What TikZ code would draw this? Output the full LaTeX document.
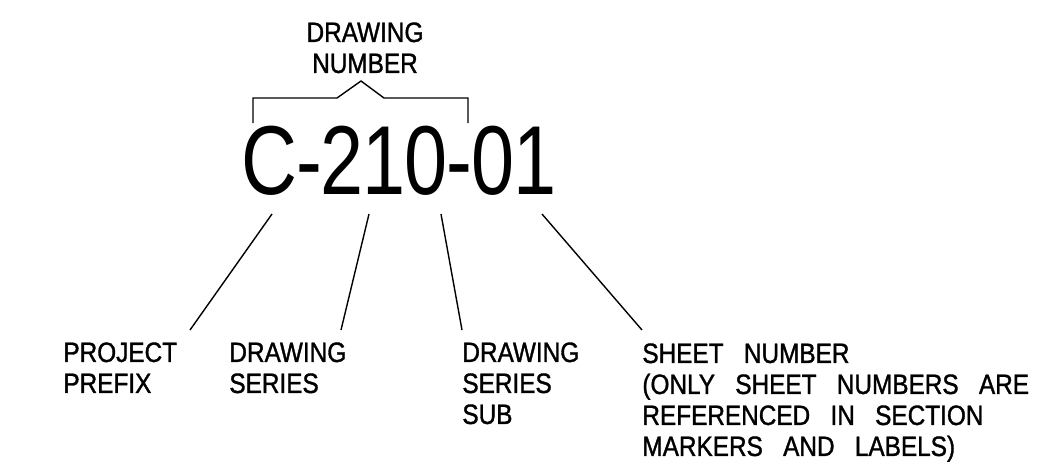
\documentclass[tikz,border=0pt]{standalone}
\usepackage{fontspec}
\setmainfont{Liberation Sans}
\newfontfamily\cadfont[FakeStretch=0.87,FakeBold=1.2,WordSpace=3.0]{Liberation Sans}
\newfontfamily\codefont[FakeStretch=0.79,LetterSpace=-1.0]{Liberation Sans}
\usetikzlibrary{positioning}

\begin{document}
\begin{tikzpicture}[x=0.5pt, y=-0.5pt, line join=miter, line cap=butt]
   % Styles
   \tikzset{
    lbl/.style={inner sep=0pt, anchor=north west, align=left,
                font=\cadfont\fontsize{14}{15.5}\selectfont},
    code/.style={inner sep=0pt, font=\codefont\fontsize{49}{49}\selectfont},
    lead/.style={line width=0.7pt, black}
   }
  \useasboundingbox (0,0) rectangle (1038,463);
  % Nodes
  \node[code] (num) at (399,161) {C-210-01};
  \node[lbl, anchor=north, align=center] (title) at (365,22) {DRAWING\\NUMBER};
  \node[lbl] (prefix) at (63,342)  {PROJECT\\PREFIX};
  \node[lbl] (series) at (229,342) {DRAWING\\SERIES};
  \node[lbl] (sub)    at (462,342) {DRAWING\\SERIES\\SUB};
  \node[lbl] (sheet)  at (642,343) {SHEET NUMBER\\(ONLY SHEET NUMBERS ARE\\REFERENCED IN SECTION\\MARKERS AND LABELS)};
  % Bracket over the drawing number
  \coordinate (brl)  at (253,123);
  \coordinate (brr)  at (468,123);
  \coordinate (peak) at (361,81);
  \draw[lead] (brl) |- (337,98) -- (peak) -- (384,98) -| (brr);
  % Leaders
  \coordinate (c1) at (272,214); \coordinate (e1) at (190,330);
  \coordinate (c2) at (369,214); \coordinate (e2) at (341,330);
  \coordinate (c3) at (441,214); \coordinate (e3) at (462,330);
  \coordinate (c4) at (542,214); \coordinate (e4) at (642,330);
  \foreach \i in {1,...,4}
    \draw[lead] (c\i) -- (e\i);
\end{tikzpicture}
\end{document}
